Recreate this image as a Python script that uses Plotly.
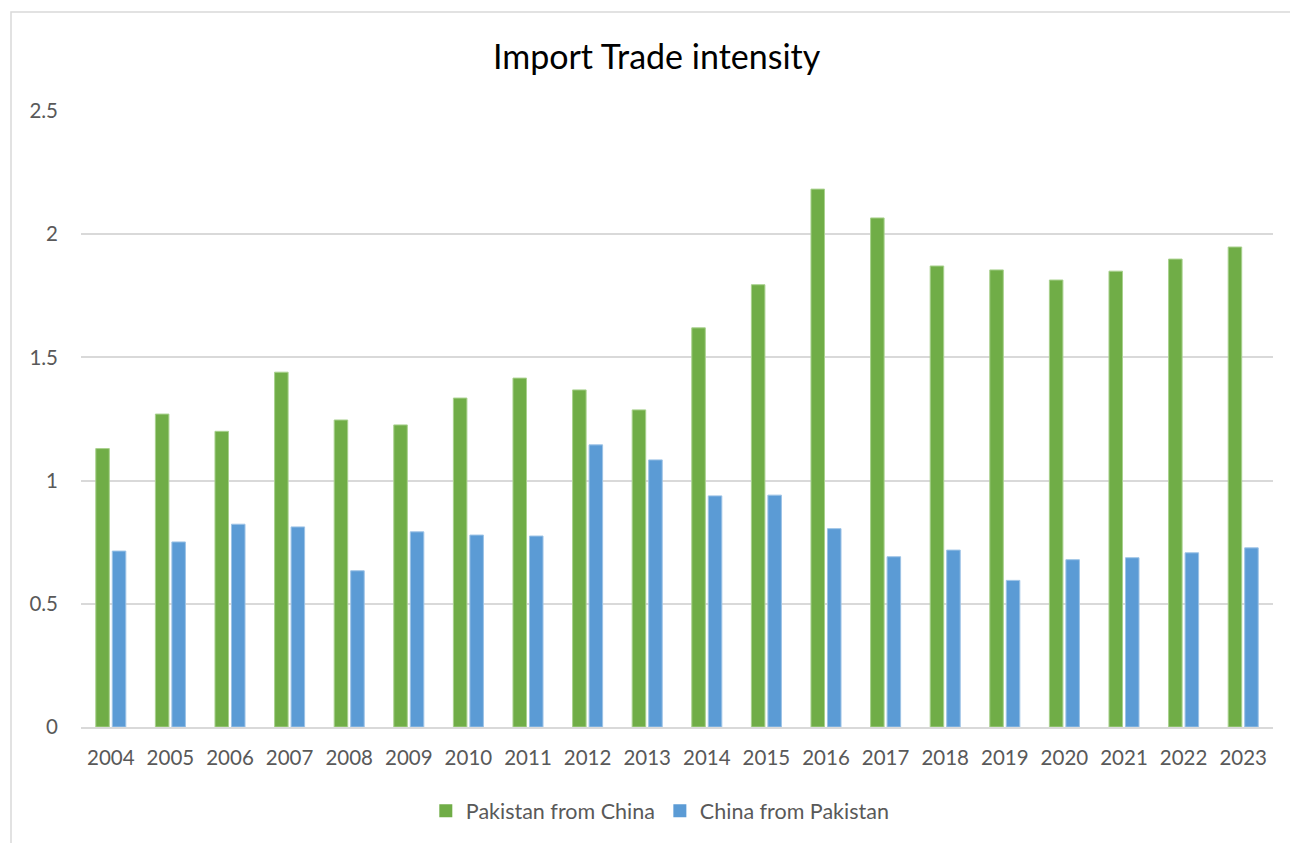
import plotly.graph_objects as go

years = [str(y) for y in range(2004, 2024)]
pak_from_china = [1.13, 1.27, 1.20, 1.44, 1.246, 1.226, 1.335, 1.416, 1.368, 1.287,
                  1.62, 1.795, 2.183, 2.066, 1.871, 1.855, 1.814, 1.85, 1.899, 1.948]
china_from_pak = [0.714, 0.751, 0.823, 0.812, 0.634, 0.792, 0.779, 0.775, 1.145, 1.084,
                  0.938, 0.941, 0.805, 0.691, 0.718, 0.595, 0.679, 0.687, 0.707, 0.727]
yticks = [0, 0.5, 1, 1.5, 2, 2.5]
ytick_text = ["0", "0.5", "1", "1.5", "2", "2.5"]

FONT = "Lato, 'Open Sans', sans-serif"
TXT = "#595959"
GREEN = "#70AD47"
BLUE = "#5B9BD5"

fig = go.Figure()
fig.add_trace(go.Bar(x=years, y=pak_from_china, name="Pakistan from China", showlegend=False,
                     marker=dict(color=GREEN, line=dict(color="#A9D18E", width=1))))
fig.add_trace(go.Bar(x=years, y=china_from_pak, name="China from Pakistan", showlegend=False,
                     marker=dict(color=BLUE, line=dict(color="#9DC3E6", width=1))))
# legend entries with larger square symbols
fig.add_trace(go.Scatter(x=[None], y=[None], mode="markers", name="Pakistan from China",
                         marker=dict(symbol="square", size=13, color=GREEN)))
fig.add_trace(go.Scatter(x=[None], y=[None], mode="markers", name="China from Pakistan",
                         marker=dict(symbol="square", size=13, color=BLUE)))

fig.update_layout(
    width=1290, height=843,
    margin=dict(l=81, r=17, t=111, b=116),
    paper_bgcolor="white", plot_bgcolor="white",
    barmode="group", bargap=0.446, bargroupgap=0.18,
    font=dict(family=FONT, color=TXT, size=20),
    title=dict(text="Import Trade intensity", x=0.509, xanchor="center",
               y=1 - 57 / 843, yanchor="middle", yref="container",
               font=dict(family=FONT, size=34, color="#000000")),
    legend=dict(orientation="h", x=0.486, xanchor="center", y=-0.136, yanchor="middle",
                font=dict(family=FONT, size=21.5, color=TXT), itemwidth=30,
                traceorder="normal"),
    showlegend=True,
)
fig.update_yaxes(range=[0, 2.5], tickvals=yticks, ticktext=ytick_text,
                 showgrid=True, gridcolor="#D9D9D9", gridwidth=1.5,
                 zeroline=False, showline=False, ticks="", ticklabelstandoff=22,
                 tickfont=dict(size=20.5, color=TXT))
fig.update_xaxes(showgrid=False, showline=True, linecolor="#D9D9D9", linewidth=1.5,
                 ticks="", ticklabelstandoff=12, tickfont=dict(size=20.5, color=TXT))

fig.add_shape(type="rect", xref="paper", yref="paper",
              x0=(11 - 81) / 1192, x1=1.2, y0=-0.5, y1=(727 - 12) / 616,
              line=dict(color="#D9D9D9", width=1.5), fillcolor="rgba(0,0,0,0)", layer="below")

fig.write_html("out.html")
